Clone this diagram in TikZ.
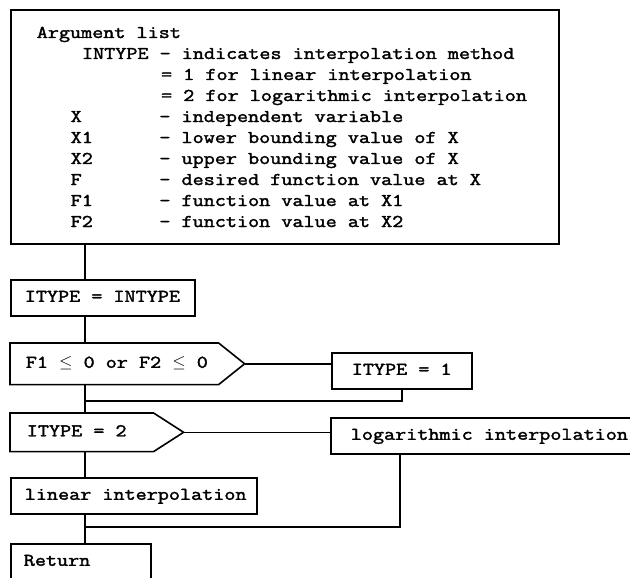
\documentclass[tikz,border=0pt]{standalone}
\usepackage{fontspec}
\newfontfamily\tw{Latin Modern Mono}[FakeStretch=1.2,FakeBold=2]
\usetikzlibrary{calc}
% left-aligned line of text in a box of fixed width
\newcommand\lline[2]{\makebox[#1][l]{#2}}
\begin{document}
\begin{tikzpicture}[x=1pt,y=-1pt,line width=1.6pt,
  listtext/.style={anchor=base west, inner sep=0pt,
    font=\tw\fontsize{17.94}{21}\selectfont},
  flowfont/.style={font=\tw\fontsize{17.94}{21}\selectfont,
    text height=12pt, text depth=4pt},
  fbox/.style={draw, rectangle, anchor=north west, minimum height=36pt,
    inner ysep=0pt, flowfont},
  sigbody/.style={rectangle, anchor=north west, inner ysep=0pt, flowfont}]
\useasboundingbox (0,0) rectangle (630,578);
\clip (0,0) rectangle (630,578);

% argument list frame and its lines (character pitch 11.3)
\node[draw, rectangle, anchor=north west, minimum width=548pt,
  minimum height=234pt, inner sep=0pt] (args) at (10,9) {};
\node[listtext] (a0) at (36,38)      {Argument list};
\node[listtext] (a1) at (81.2,59)    {INTYPE - indicates interpolation method};
\node[listtext] (a2) at (160.3,80)   {= 1 for linear interpolation};
\node[listtext] (a3) at (160.3,101)  {= 2 for logarithmic interpolation};
\node[listtext] (a4) at (69.9,122)   {X~~~~~~~- independent variable};
\node[listtext] (a5) at (69.9,143)   {X1~~~~~~- lower bounding value of X};
\node[listtext] (a6) at (69.9,164)   {X2~~~~~~- upper bounding value of X};
\node[listtext] (a7) at (69.9,185)   {F~~~~~~~- desired function value at X};
\node[listtext] (a8) at (69.9,206)   {F1~~~~~~- function value at X1};
\node[listtext] (a9) at (69.9,227)   {F2~~~~~~- function value at X2};

% flow boxes
\node[fbox, inner xsep=14pt] (b1) at (10,279) {\lline{156pt}{ITYPE = INTYPE}};

\node[sigbody, inner xsep=15pt, minimum height=40pt] (d1) at (10,343)
  {\lline{177pt}{F1 $\le$ 0 or F2 $\le$ 0}};
\coordinate (d1tip) at ($(d1.east)+(26,0)$);
\draw (d1.north west) -- (d1.north east) -- (d1tip) -- (d1.south east) -- (d1.south west) -- cycle;

\node[fbox, inner xsep=20pt] (b2) at (331,352) {\lline{100pt}{ITYPE = 1}};

\node[sigbody, inner xsep=16pt, minimum height=37pt] (d2) at (10,413)
  {\lline{110pt}{ITYPE = 2}};
\coordinate (d2tip) at ($(d2.east)+(30,0)$);
\draw (d2.north west) -- (d2.north east) -- (d2tip) -- (d2.south east) -- (d2.south west) -- cycle;

\node[fbox, inner xsep=20pt] (b3) at (330,417) {\lline{290pt}{logarithmic interpolation}};
\node[fbox, inner xsep=14pt] (b4) at (10,477) {\lline{218pt}{linear interpolation}};
\node[fbox, inner xsep=13pt] (b5) at (10,543) {\lline{114pt}{Return}};

% main flow line
\coordinate (sp) at (85,0);
\draw (args.south -| sp) -- (b1.north -| sp);
\draw (b1.south -| sp) -- (d1.north -| sp);
\draw (d1.south -| sp) -- (d2.north -| sp);
\draw (d2.south -| sp) -- (b4.north -| sp);
\draw (b4.south -| sp) -- (b5.north -| sp);

% branches and their returns to the main line
\draw (d1tip) -- (d1tip -| b2.west);
\draw (d2tip) -- (d2tip -| b3.west);
\coordinate (j1) at (85,401);
\draw (b2.south) |- (j1);
\coordinate (j2) at (85,527);
\coordinate (b3drop) at ($(b3.south west)+(70,0)$);
\draw (b3drop) |- (j2);
\end{tikzpicture}
\end{document}
